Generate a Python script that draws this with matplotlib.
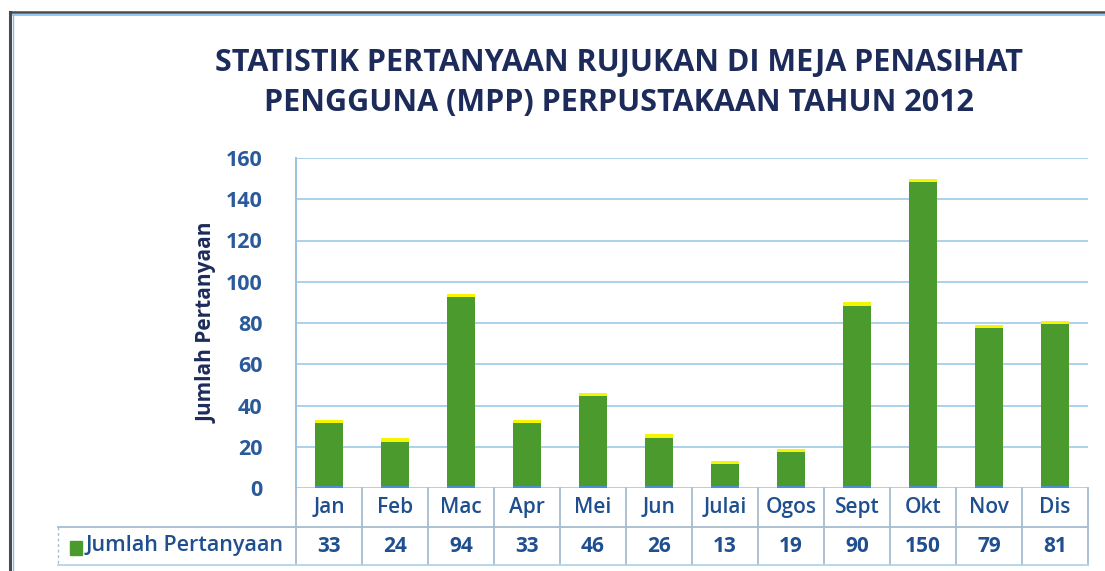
import matplotlib
matplotlib.use("Agg")
import matplotlib.pyplot as plt
from matplotlib.transforms import blended_transform_factory
from matplotlib.lines import Line2D
from matplotlib.patches import Rectangle

months = ["Jan", "Feb", "Mac", "Apr", "Mei", "Jun", "Julai", "Ogos", "Sept", "Okt", "Nov", "Dis"]
counts = [33, 24, 94, 33, 46, 26, 13, 19, 90, 150, 79, 81]
series_name = "Jumlah Pertanyaan"
title = "STATISTIK PERTANYAAN RUJUKAN DI MEJA PENASIHAT\nPENGGUNA (MPP) PERPUSTAKAAN TAHUN 2012"

W, H = 1105, 571
fig = plt.figure(figsize=(W / 100, H / 100), dpi=100)
plt.rcParams['font.family'] = ['Open Sans', 'DejaVu Sans']

def fx(px):
    return px / W

def fy(py):
    return 1 - py / H

# frame of the scanned chart
fig.add_artist(Line2D([fx(10), fx(10)], [fy(12), 0], color="#4a4a4a", lw=2.2))
fig.add_artist(Line2D([fx(10), 1], [fy(12), fy(12)], color="#4a4a4a", lw=1.8))
fig.add_artist(Line2D([fx(13), 1], [fy(15), fy(15)], color="#7fc0ea", lw=1.2))
fig.add_artist(Line2D([fx(13), fx(13)], [fy(15), 0], color="#7fc0ea", lw=1.0))

ax = fig.add_axes([fx(296), fy(488), fx(1088) - fx(296), fy(158) - fy(488)])
x = list(range(len(months)))
ax.bar(x, counts, width=0.42, color="#4a9a2e", zorder=3)
cap = 1.6
ax.bar(x, [cap] * len(counts), bottom=[c - cap for c in counts], width=0.42, color="#f5f500", zorder=4)
ax.bar(x, [0.8] * len(counts), bottom=0, width=0.42, color="#4a90d0", zorder=4)

ax.set_xlim(-0.5, len(months) - 0.5)
ax.set_ylim(0, 160)
ax.set_yticks(range(0, 161, 20))
ax.set_xticks([])
ax.tick_params(axis="y", length=0, pad=24, labelsize=15.5, labelcolor="#2a5a9a")
for lab in ax.get_yticklabels():
    lab.set_fontweight("bold")
ax.grid(axis="y", color="#aad2ea", lw=1.4, zorder=0)
for s in ["top", "right", "bottom"]:
    ax.spines[s].set_visible(False)
ax.spines["left"].set_color("#9cc3dd")
ax.spines["left"].set_linewidth(1.4)

ax.set_ylabel(series_name, fontsize=15, fontweight="bold", color="#1c2b5a", labelpad=6)

# data table under the plot
tr = blended_transform_factory(ax.transData, fig.transFigure)
line_c = "#a6bccf"
y_top, y_mid, y_bot = fy(488), fy(527), fy(565)
for i in range(len(months) + 1):
    fig.add_artist(Line2D([fx(296) + (fx(1088) - fx(296)) * i / len(months)] * 2, [y_top, y_bot],
                          color=line_c, lw=1.3))
fig.add_artist(Line2D([fx(58), fx(1088)], [y_mid, y_mid], color=line_c, lw=1.3))
fig.add_artist(Line2D([fx(58), fx(1088)], [y_bot, y_bot], color="#b5d3e6", lw=1.3))
fig.add_artist(Line2D([fx(58), fx(58)], [y_mid, y_bot], color=line_c, lw=1.0, ls=(0, (2, 2))))

for i, (m, c) in enumerate(zip(months, counts)):
    ax.text(i, (y_top + y_mid) / 2, m, transform=tr, ha="center", va="center",
            fontsize=15, fontweight="semibold", color="#1f4f8f")
    ax.text(i, (y_mid + y_bot) / 2, str(c), transform=tr, ha="center", va="center",
            fontsize=15, fontweight="bold", color="#1f4f8f")

fig.add_artist(Rectangle((fx(70), fy(555)), fx(12), fy(541) - fy(555), color="#4a9a2e"))
fig.text(fx(86), (y_mid + y_bot) / 2, series_name, ha="left", va="center",
         fontsize=15.5, fontweight="semibold", color="#1f4f8f")

fig.text(fx(619), fy(83), title, ha="center", va="center", fontsize=22,
         fontweight="bold", color="#1c2b5a", linespacing=1.42)

fig.savefig("out.png", dpi=100)
